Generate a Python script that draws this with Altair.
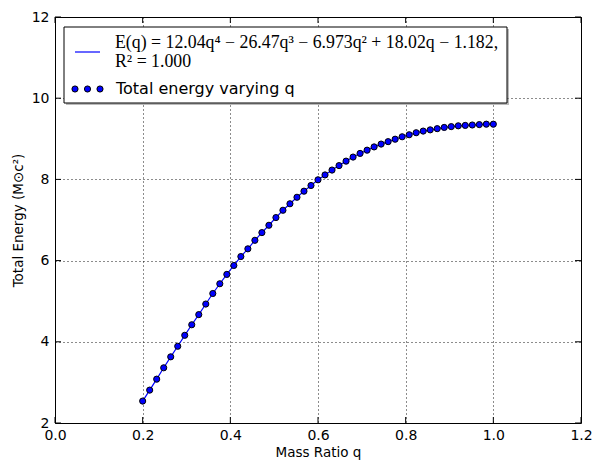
import altair as alt
import pandas as pd

# ---- data ----
q_values = [0.200, 0.216, 0.232, 0.248, 0.264, 0.280, 0.296, 0.312, 0.328, 0.344,
            0.360, 0.376, 0.392, 0.408, 0.424, 0.440, 0.456, 0.472, 0.488, 0.504,
            0.520, 0.536, 0.552, 0.568, 0.584, 0.600, 0.616, 0.632, 0.648, 0.664,
            0.680, 0.696, 0.712, 0.728, 0.744, 0.760, 0.776, 0.792, 0.808, 0.824,
            0.840, 0.856, 0.872, 0.888, 0.904, 0.920, 0.936, 0.952, 0.968, 0.984,
            1.000]
energy_values = [2.54, 2.81, 3.08, 3.36, 3.63, 3.89, 4.16, 4.42, 4.67, 4.93,
                 5.19, 5.43, 5.66, 5.88, 6.10, 6.29, 6.50, 6.69, 6.87, 7.06,
                 7.24, 7.40, 7.56, 7.71, 7.85, 7.99, 8.11, 8.23, 8.34, 8.45,
                 8.55, 8.64, 8.72, 8.80, 8.87, 8.93, 8.99, 9.05, 9.10, 9.15,
                 9.19, 9.22, 9.25, 9.28, 9.30, 9.32, 9.33, 9.34, 9.35, 9.36,
                 9.36]
x_ticks = [0.0, 0.2, 0.4, 0.6, 0.8, 1.0, 1.2]
y_ticks = [2, 4, 6, 8, 10, 12]

fit_label_1 = "E(q) = 12.04q⁴ − 26.47q³ − 6.973q² + 18.02q − 1.182,"
fit_label_2 = "R² = 1.000"
points_label = "Total energy varying q"
x_title = "Mass Ratio q"
y_title = "Total Energy (M⊙c²)"

W, H = 526, 406

df = pd.DataFrame({"q": q_values, "E": energy_values})
xt = pd.DataFrame({"v": x_ticks})
yt = pd.DataFrame({"v": y_ticks})
one = pd.DataFrame({"k": [0]})

xscale = alt.Scale(domain=[0, 1.2], nice=False, zero=False)
yscale = alt.Scale(domain=[2, 12], nice=False, zero=False)

xaxis = alt.Axis(values=x_ticks, format=".1f", ticks=False, domain=False,
                 grid=True, gridColor="black", gridDash=[1, 3], gridWidth=1,
                 gridOpacity=0.9, labelFont="DejaVu Sans", labelFontSize=14,
                 labelColor="black", labelPadding=5, labelOverlap=False,
                 labelFlush=False, title=x_title, titleFont="DejaVu Sans",
                 titleFontSize=13.5, titleFontWeight="normal", titleColor="black",
                 titlePadding=3)
yaxis = alt.Axis(values=y_ticks, format="d", ticks=False, domain=False,
                 grid=True, gridColor="black", gridDash=[1, 3], gridWidth=1,
                 gridOpacity=0.9, labelFont="DejaVu Sans", labelFontSize=14,
                 labelColor="black", labelPadding=6, labelOverlap=False,
                 labelFlush=False, title=y_title, titleFont="DejaVu Sans",
                 titleFontSize=13.5, titleFontWeight="normal", titleColor="black",
                 titlePadding=6)

base = alt.Chart(df)
line = base.mark_line(color="#0000ff", strokeWidth=1.2).encode(
    x=alt.X("q:Q", scale=xscale, axis=xaxis),
    y=alt.Y("E:Q", scale=yscale, axis=yaxis),
)
pts = base.mark_point(filled=True, shape="circle", size=38, fill="#0000ff",
                      stroke="black", strokeWidth=1, opacity=1).encode(
    x=alt.X("q:Q", scale=xscale),
    y=alt.Y("E:Q", scale=yscale),
)

tk = 6
xt_bot = alt.Chart(xt).mark_rule(color="black", strokeWidth=1).encode(
    x=alt.X("v:Q", scale=xscale), y=alt.value(H), y2=alt.value(H - tk))
xt_top = alt.Chart(xt).mark_rule(color="black", strokeWidth=1).encode(
    x=alt.X("v:Q", scale=xscale), y=alt.value(0), y2=alt.value(tk))
yt_left = alt.Chart(yt).mark_rule(color="black", strokeWidth=1).encode(
    y=alt.Y("v:Q", scale=yscale), x=alt.value(0), x2=alt.value(tk))
yt_right = alt.Chart(yt).mark_rule(color="black", strokeWidth=1).encode(
    y=alt.Y("v:Q", scale=yscale), x=alt.value(W), x2=alt.value(W - tk))

# ---- legend ----
lx0, lx1, ly0, ly1 = 9, 452, 10, 86
shadow = alt.Chart(one).mark_rect(color="#777777", opacity=0.5).encode(
    x=alt.value(lx0 + 2), x2=alt.value(lx1 + 2),
    y=alt.value(ly0 + 2), y2=alt.value(ly1 + 2))
box = alt.Chart(one).mark_rect(fill="white", stroke="black", strokeWidth=1).encode(
    x=alt.value(lx0), x2=alt.value(lx1), y=alt.value(ly0), y2=alt.value(ly1))
leg_line = alt.Chart(one).mark_rule(color="#0000ff", strokeWidth=1.2).encode(
    x=alt.value(20), x2=alt.value(45), y=alt.value(35))
leg_dots = [
    alt.Chart(one).mark_point(filled=True, shape="circle", size=38, fill="#0000ff",
                              stroke="black", strokeWidth=1, opacity=1).encode(
        x=alt.value(px), y=alt.value(72))
    for px in (20, 32.5, 45)
]
txt1 = alt.Chart(one).mark_text(align="left", baseline="middle", font="Liberation Serif",
                                fontSize=17.8, color="black").encode(
    x=alt.value(60), y=alt.value(26), text=alt.value(fit_label_1))
txt2 = alt.Chart(one).mark_text(align="left", baseline="middle", font="Liberation Serif",
                                fontSize=17.8, color="black").encode(
    x=alt.value(60), y=alt.value(45), text=alt.value(fit_label_2))
txt3 = alt.Chart(one).mark_text(align="left", baseline="middle", font="DejaVu Sans",
                                fontSize=16, color="black").encode(
    x=alt.value(61), y=alt.value(72), text=alt.value(points_label))

chart = alt.layer(line, pts, xt_bot, xt_top, yt_left, yt_right,
                  shadow, box, leg_line, *leg_dots, txt1, txt2, txt3).properties(
    width=W, height=H,
    autosize=alt.AutoSizeParams(type="none"),
    padding={"left": 55, "top": 17, "right": 14, "bottom": 38},
    background="white",
).configure_view(stroke="black", strokeWidth=1)

chart.save("out.html", embed_options={"renderer": "svg", "actions": False})
